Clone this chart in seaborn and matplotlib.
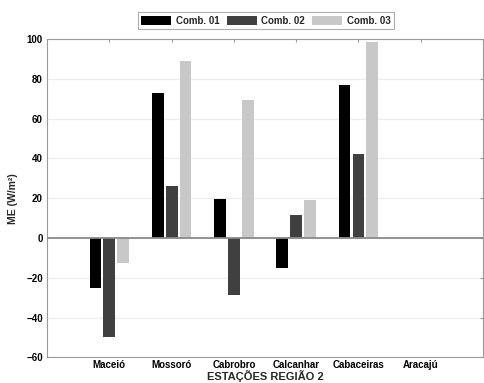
import matplotlib
matplotlib.use("Agg")
import matplotlib.pyplot as plt
import seaborn as sns
import pandas as pd

# Mean error per station for each combination
stations = ["Maceió", "Mossoró", "Cabrobro", "Calcanhar", "Cabaceiras", "Aracajú"]
comb_labels = ["Comb. 01", "Comb. 02", "Comb. 03"]
comb01 = [-25.0, 72.7, 19.4, -15.0, 77.0, 0.0]
comb02 = [-50.0, 26.3, -28.6, 11.4, 42.0, 0.0]
comb03 = [-12.8, 89.0, 69.6, 18.9, 98.3, 0.0]
yticks = [-60, -40, -20, 0, 20, 40, 60, 80, 100]

df = pd.DataFrame({
    "station": stations * 3,
    "comb": [c for c in comb_labels for _ in stations],
    "me": comb01 + comb02 + comb03,
})

sns.set_theme(style="white")
plt.rcParams["font.family"] = ["Liberation Sans", "DejaVu Sans"]
plt.rcParams["font.weight"] = "bold"

fig = plt.figure(figsize=(4.85, 3.83), dpi=100)
ax = fig.add_axes([0.097, 0.067, 0.899, 0.831])

palette = ["#000000", "#404040", "#c8c8c8"]
sns.barplot(data=df, x="station", y="me", hue="comb", order=stations,
            hue_order=comb_labels, palette=palette, width=0.67, gap=0.15,
            linewidth=0, saturation=1, errorbar=None, ax=ax, zorder=2)

ax.set_xlim(-1, 6)
ax.set_ylim(-60, 100)
ax.set_yticks(yticks)
ax.yaxis.grid(True, color="#ececec", linewidth=0.8, zorder=0)
ax.set_axisbelow(True)
ax.axhline(0, color="#8a8a8a", linewidth=1.3, zorder=3)

for s in ax.spines.values():
    s.set_color("#9a9a9a")
    s.set_linewidth(0.8)
ax.tick_params(axis="both", which="both", direction="in", length=2.5,
               color="#9a9a9a", width=0.8, top=True, right=True,
               labelsize=7, pad=3, labelcolor="black")
ax.tick_params(axis="x", pad=2)
for lab in ax.get_xticklabels() + ax.get_yticklabels():
    lab.set_fontweight("bold")

ax.set_xlabel("ESTAÇÕES REGIÃO 2", fontsize=8, fontweight="bold", labelpad=0)
ax.set_ylabel("ME (W/m²)", fontsize=7.5, fontweight="bold", labelpad=6)

leg = ax.legend(loc="center", bbox_to_anchor=(0.548, 0.946),
                bbox_transform=fig.transFigure, ncol=3, frameon=True,
                fancybox=False, edgecolor="#9a9a9a", fontsize=7,
                handlelength=3.1, handleheight=0.95, handletextpad=0.45,
                columnspacing=0.75, borderpad=0.35, borderaxespad=0)
leg.get_frame().set_linewidth(0.8)
for t in leg.get_texts():
    t.set_fontweight("bold")

fig.savefig("out.png", dpi=100)
